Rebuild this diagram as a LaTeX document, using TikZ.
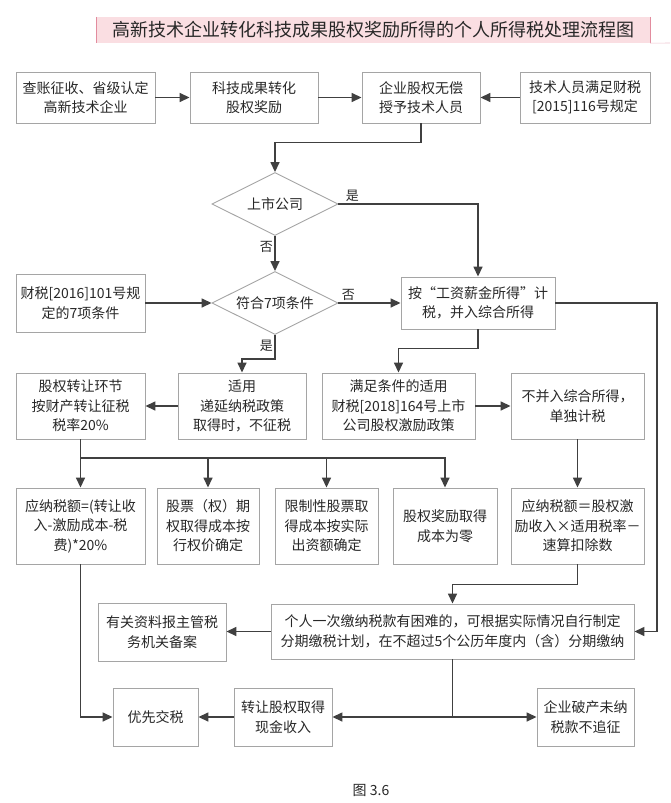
\documentclass[tikz,border=0pt]{standalone}
\usepackage{fontspec}
\setmainfont{Noto Sans CJK SC}
\usetikzlibrary{shapes.geometric}
\usetikzlibrary{arrows.meta}
\usetikzlibrary{shadows}
\definecolor{edgegray}{RGB}{165,165,165}
\definecolor{linegray}{RGB}{64,64,64}
\definecolor{textgray}{RGB}{40,40,40}
\definecolor{titlepink}{RGB}{250,222,226}
\definecolor{titleedge}{RGB}{226,140,158}
\tikzset{
  flowbox/.style={draw=edgegray, fill=white, line width=0.9pt, align=center,
    inner sep=2pt, text=textgray, font=\fontsize{14}{19.5}\selectfont,
    drop shadow={shadow xshift=1pt, shadow yshift=-1pt, fill=black!12}},
  decide/.style={diamond, aspect=2, draw=edgegray, line width=0.9pt,
    minimum width=126pt, minimum height=63pt, inner sep=0pt, text=textgray,
    font=\fontsize{14}{17}\selectfont},
  arr/.style={draw=linegray, line width=1.5pt, -{Triangle[length=10pt,width=9pt]}},
  seg/.style={draw=linegray, line width=1.5pt},
  lab/.style={text=textgray, font=\fontsize{13}{15}\selectfont, inner sep=1.5pt}
}

\begin{document}
\begin{tikzpicture}[x=1pt,y=-1pt]
    \useasboundingbox[fill=white] (0,0) rectangle (670,803);
    % Title
    \node[fill=titlepink, minimum width=553pt, minimum height=26pt, inner sep=0pt,
      text=textgray, font=\fontsize{18}{20}\selectfont] (title) at (373.5,30)
      {高新技术企业转化科技成果股权奖励所得的个人所得税处理流程图};
    \draw[titleedge, line width=1pt] (title.north west) -- (title.south west);
    \draw[titleedge, line width=1pt] (title.north east) -- (title.south east);
    \draw[titleedge!50, line width=0.6pt] (title.south east) -- (670,43);
    % Row 1
    \node[flowbox, minimum width=139pt, minimum height=51pt] (chazhang) at (85.5,97.5) {查账征收、省级认定\\高新技术企业};
    \node[flowbox, minimum width=128pt, minimum height=51pt] (keji) at (254,97.5) {科技成果转化\\股权奖励};
    \node[flowbox, minimum width=118pt, minimum height=51pt] (shouyu) at (421,97.5) {企业股权无偿\\授予技术人员};
    \node[flowbox, minimum width=130pt, minimum height=51pt] (jishu) at (585,97.5) {技术人员满足财税\\{[2015]}116号规定};
    % Decisions
    \node[decide] (shangshi) at (275,204) {上市公司};
    \node[decide] (fuhe) at (275,303) {符合7项条件};
    \node[flowbox, minimum width=129pt, minimum height=58pt] (caishui) at (80.5,303) {财税[2016]101号规\\定的7项条件};
    \node[flowbox, minimum width=154pt, minimum height=52pt] (gongzi) at (478,303) {按“工资薪金所得”计\\税，并入综合所得};
    % Row 3
    \node[flowbox, minimum width=129pt, minimum height=66pt] (zhuanrang) at (80.5,406) {股权转让环节\\按财产转让征税\\税率20\%};
    \node[flowbox, minimum width=128pt, minimum height=66pt] (diyan) at (242,406) {适用\\递延纳税政策\\取得时，不征税};
    \node[flowbox, minimum width=153pt, minimum height=66pt] (manzu) at (398.5,406) {满足条件的适用\\财税[2018]164号上市\\公司股权激励政策};
    \node[flowbox, minimum width=133pt, minimum height=66pt] (budan) at (577.5,406) {不并入综合所得，\\单独计税};
    % Row 4
    \node[flowbox, minimum width=129pt, minimum height=76pt] (yingna) at (80.5,526) {应纳税额=(转让收\\入-激励成本-税\\费)*20\%};
    \node[flowbox, minimum width=102pt, minimum height=76pt] (qiquan) at (208,526) {股票（权）期\\权取得成本按\\行权价确定};
    \node[flowbox, minimum width=103pt, minimum height=76pt] (xianzhi) at (326.5,526) {限制性股票取\\得成本按实际\\出资额确定};
    \node[flowbox, minimum width=104pt, minimum height=76pt] (jiangli) at (445,526) {股权奖励取得\\成本为零};
    \node[flowbox, minimum width=133pt, minimum height=76pt] (suanshu) at (577.5,526) {应纳税额＝股权激\\励收入×适用税率－\\速算扣除数};
    % Row 5
    \node[flowbox, minimum width=363pt, minimum height=55pt] (fenqi) at (452.5,631.5) {个人一次缴纳税款有困难的，可根据实际情况自行制定\\分期缴税计划，在不超过5个公历年度内（含）分期缴纳};
    \node[flowbox, minimum width=128pt, minimum height=58pt] (beian) at (162,632) {有关资料报主管税\\务机关备案};
    % Row 6
    \node[flowbox, minimum width=85pt, minimum height=58pt] (youxian) at (155.5,717) {优先交税};
    \node[flowbox, minimum width=98pt, minimum height=58pt] (xianjin) at (283,717) {转让股权取得\\现金收入};
    \node[flowbox, minimum width=97pt, minimum height=58pt] (pochan) at (585.5,717) {企业破产未纳\\税款不追征};
    % Caption
    \node[text=textgray, font=\fontsize{14}{16}\selectfont] (caption) at (371,790) {图 3.6};
    \coordinate (fork) at (80.5,458);
    \coordinate (rim) at (657,0);
    %
    % Connectors
    \draw[arr] (chazhang) -- (keji);
    \draw[arr] (keji) -- (shouyu);
    \draw[arr] (jishu) -- (shouyu);
    \draw[arr] (shouyu.south) -- ++(0,19) -| (shangshi.north);
    \draw[arr] (shangshi.east) -| node[lab, pos=0.05, above] (shiA) {是} (gongzi.north);
    \draw[arr] (shangshi.south) -- node[lab, pos=0.3, left] (fouA) {否} (fuhe.north);
    \draw[arr] (caishui) -- (fuhe);
    \draw[arr] (fuhe.east) -- node[lab, pos=0.16, above] (fouB) {否} (gongzi.west);
    \draw[arr] (fuhe.south) -- node[lab, pos=0.45, left] (shiB) {是} ++(0,24) -| (diyan.north);
    \draw[arr] (gongzi.south) -- ++(0,19) -| (manzu.north);
    \draw[arr] (diyan) -- (zhuanrang);
    \draw[arr] (manzu) -- (budan);
    % Fork to row 4
    \draw[arr] (zhuanrang.south) -- (yingna.north);
    \draw[arr] (fork) -| (qiquan.north);
    \draw[arr] (fork) -| (xianzhi.north);
    \draw[arr] (fork) -| (jiangli.north);
    \draw[arr] (budan) -- (suanshu);
    \draw[arr] (suanshu.south) -- ++(0,20) -| (fenqi.north);
    \draw[arr] (gongzi.east) -- (gongzi.east -| rim) |- (fenqi.east);
    \draw[arr] (fenqi.west) -- (fenqi.west -| beian.east);
    % Bottom row
    \draw[arr] (yingna.south) |- (youxian.west);
    \draw[seg] (fenqi.south) -- (fenqi.south |- xianjin.east);
    \draw[arr] (fenqi.south |- xianjin.east) -- (xianjin.east);
    \draw[arr] (fenqi.south |- pochan.west) -- (pochan.west);
    \draw[arr] (xianjin) -- (youxian);
\end{tikzpicture}
\end{document}
